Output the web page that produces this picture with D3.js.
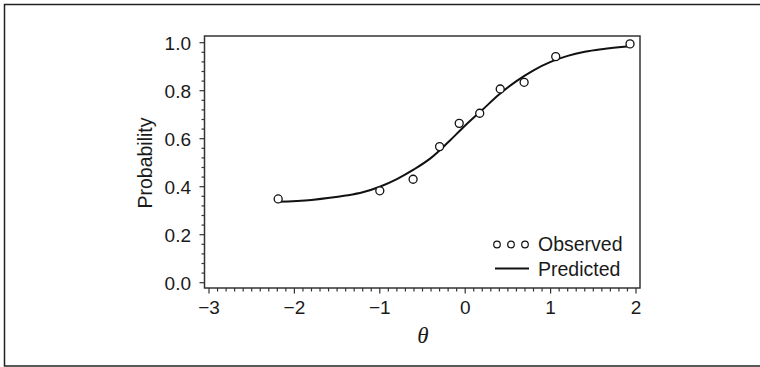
<!DOCTYPE html>
<html>
<head>
<meta charset="utf-8">
<script src="https://cdn.jsdelivr.net/npm/d3@7"></script>
<style>
  body { margin: 0; background: #fff; }
  svg { display: block; }
  text { font-family: "Liberation Sans", Arial, sans-serif; fill: #1a1a1a; }
</style>
</head>
<body>
<svg id="chart" width="760" height="367"></svg>
<script>
// observed proportions
let obsTheta = [-2.19, -1.0, -0.61, -0.30, -0.07, 0.17, 0.41, 0.69, 1.06, 1.93]
let obsProb = [0.349, 0.383, 0.431, 0.567, 0.664, 0.706, 0.807, 0.835, 0.942, 0.995]

// predicted curve
let predTheta = [-2.2, -1.8, -1.4, -1.2, -1.0, -0.8, -0.6, -0.4, -0.2, 0.0, 0.2, 0.4, 0.6, 0.8, 1.0, 1.2, 1.4, 1.6, 1.93]
let predProb = [0.337, 0.345, 0.363, 0.377, 0.40, 0.432, 0.472, 0.52, 0.585, 0.655, 0.72, 0.785, 0.84, 0.885, 0.92, 0.945, 0.962, 0.973, 0.985]

let xTicks = [-3, -2, -1, 0, 1, 2]
let yTicks = [0.0, 0.2, 0.4, 0.6, 0.8, 1.0]
let legendLabels = ["Observed", "Predicted"]

let svg = d3.select("#chart")

let x = d3.scaleLinear().domain([-3, 2]).range([209, 636])
let y = d3.scaleLinear().domain([0, 1]).range([282.7, 42.7])

let plotL = 204.5, plotR = 640, plotT = 36, plotB = 288

// outer frame
svg.append("rect")
    .attr("x", 4.5).attr("y", 4.5)
    .attr("width", 780).attr("height", 361.5)
    .attr("fill", "none").attr("stroke", "#222").attr("stroke-width", 1.5)

// plot frame
svg.append("rect")
    .attr("x", plotL).attr("y", plotT)
    .attr("width", plotR - plotL).attr("height", plotB - plotT)
    .attr("fill", "none").attr("stroke", "#333").attr("stroke-width", 1.5)

// x ticks
let xMinor = d3.range(-30, 21).map(d => d / 10)
svg.selectAll(".xminor")
    .data(xMinor)
    .join("line")
    .attr("x1", d => x(d)).attr("x2", d => x(d))
    .attr("y1", plotB).attr("y2", d => Math.abs(d - Math.round(d)) < 1e-6 ? plotB + 5.5 : plotB + 3.5)
    .attr("stroke", "#333").attr("stroke-width", 1.2)

svg.selectAll(".xlab")
    .data(xTicks)
    .join("text")
    .attr("x", d => x(d)).attr("y", 314)
    .attr("text-anchor", "middle")
    .attr("font-size", 19)
    .text(d => d3.format("d")(d).replace("-", "\u2212"))

// y ticks
let yMinor = d3.range(0, 26).map(d => d * 0.04)
svg.selectAll(".yminor")
    .data(yMinor)
    .join("line")
    .attr("y1", d => y(d)).attr("y2", d => y(d))
    .attr("x1", plotL).attr("x2", d => Math.abs(d * 5 - Math.round(d * 5)) < 1e-6 ? plotL - 5 : plotL - 3)
    .attr("stroke", "#333").attr("stroke-width", 1.2)

svg.selectAll(".ylab")
    .data(yTicks)
    .join("text")
    .attr("x", 191).attr("y", d => y(d) + 7)
    .attr("text-anchor", "end")
    .attr("font-size", 19)
    .text(d => d3.format(".1f")(d))

// axis titles
svg.append("text")
    .attr("transform", "translate(152,163) rotate(-90)")
    .attr("text-anchor", "middle")
    .attr("font-size", 19.5)
    .text("Probability")

svg.append("text")
    .attr("x", 423).attr("y", 343)
    .attr("text-anchor", "middle")
    .attr("font-size", 23)
    .attr("font-style", "italic")
    .style("font-family", "'Liberation Serif', 'Times New Roman', serif")
    .text("\u03B8")

// predicted curve
let line = d3.line()
    .x((d, i) => x(predTheta[i]))
    .y(d => y(d))
    .curve(d3.curveMonotoneX)

svg.append("path")
    .attr("d", line(predProb))
    .attr("fill", "none").attr("stroke", "#111").attr("stroke-width", 2)

// observed points
svg.selectAll(".obs")
    .data(obsProb)
    .join("circle")
    .attr("cx", (d, i) => x(obsTheta[i]))
    .attr("cy", d => y(d))
    .attr("r", 4)
    .attr("fill", "#fff").attr("stroke", "#111").attr("stroke-width", 1.3)

// legend
let lg = svg.append("g")
lg.selectAll(".lgc")
    .data([0, 1, 2])
    .join("circle")
    .attr("cx", d => 497 + d * 14)
    .attr("cy", 244.5)
    .attr("r", 3.3)
    .attr("fill", "#fff").attr("stroke", "#111").attr("stroke-width", 1.2)

lg.append("line")
    .attr("x1", 495).attr("x2", 529)
    .attr("y1", 268.5).attr("y2", 268.5)
    .attr("stroke", "#111").attr("stroke-width", 2)

lg.selectAll(".lgt")
    .data(legendLabels)
    .join("text")
    .attr("x", 538)
    .attr("y", (d, i) => 251 + i * 24.5)
    .attr("font-size", 19.5)
    .text(d => d)
</script>
</body>
</html>
